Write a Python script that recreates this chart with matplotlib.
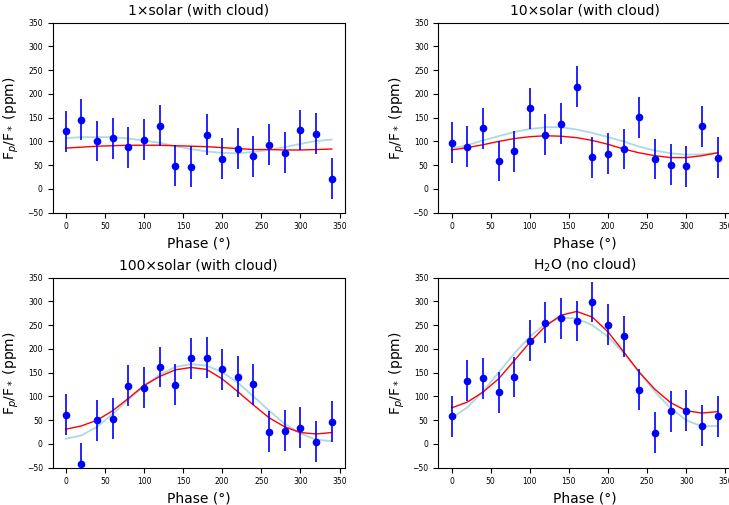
import numpy as np
import matplotlib
matplotlib.use("Agg")
import matplotlib.pyplot as plt

phase = np.arange(0, 360, 20)
err = 43

titles = ["1×solar (with cloud)", "10×solar (with cloud)",
          "100×solar (with cloud)", r"H$_2$O (no cloud)"]

# observed points (ppm)
obs_1x = [121, 146, 101, 107, 88, 104, 133, 49, 47, 114, 64, 85, 69, 93, 76, 124, 116, 22]
obs_10x = [97, 89, 128, 59, 79, 170, 114, 137, 215, 67, 74, 84, 151, 63, 51, 48, 132, 66]
obs_100x = [62, -42, 50, 53, 123, 118, 162, 125, 180, 182, 157, 142, 126, 26, 28, 34, 5, 47]
obs_h2o = [58, 133, 138, 109, 141, 217, 255, 265, 259, 299, 251, 227, 114, 24, 69, 70, 38, 58]

# model curves (red)
mod_1x = [86, 88, 90, 91, 92, 92, 92, 91, 90, 89, 87, 85, 83, 83, 82, 82, 83, 84]
mod_10x = [82, 87, 93, 100, 106, 110, 112, 111, 108, 102, 94, 84, 76, 70, 66, 66, 70, 76]
mod_100x = [31, 38, 50, 70, 96, 123, 142, 156, 161, 157, 137, 110, 82, 55, 36, 24, 21, 24]
mod_h2o = [76, 88, 109, 137, 175, 214, 248, 271, 279, 267, 236, 194, 151, 115, 87, 70, 65, 68]

# sinusoidal fits (light blue)
fit_1x = [107, 109, 109, 109, 106, 102, 97, 90, 84, 79, 76, 75, 78, 82, 88, 95, 101, 104]
fit_10x = [85, 92, 102, 111, 120, 126, 130, 130, 125, 118, 109, 100, 89, 81, 75, 72, 73, 76]
fit_100x = [11, 18, 36, 63, 93, 122, 146, 162, 168, 165, 151, 129, 100, 70, 42, 22, 9, 6]
fit_h2o = [54, 77, 110, 150, 190, 226, 253, 266, 264, 250, 226, 191, 151, 110, 75, 50, 37, 38]

obs = [obs_1x, obs_10x, obs_100x, obs_h2o]
mods = [mod_1x, mod_10x, mod_100x, mod_h2o]
fits = [fit_1x, fit_10x, fit_100x, fit_h2o]

W, H = 729, 505
fig = plt.figure(figsize=(W / 100, H / 100), dpi=100)

lefts = [52.5, 438.3]
tops = [22.7, 277.7]
aw, ah = 292.5, 190

for i in range(4):
    r, c = divmod(i, 2)
    ax = fig.add_axes([lefts[c] / W, (H - tops[r] - ah) / H, aw / W, ah / H])
    ax.plot(phase, fits[i], color="lightblue", lw=1.3, zorder=1)
    ax.plot(phase, mods[i], color="red", lw=1.0, zorder=2)
    ax.errorbar(phase, obs[i], yerr=err, fmt="o", color="blue", ms=4.5,
                elinewidth=1.2, capsize=0, zorder=3)
    ax.set_ylim(-50, 350)
    ax.set_xlim(-17, 357)
    ax.set_yticks(np.arange(-50, 351, 50))
    ax.set_xticks(np.arange(0, 351, 50))
    ax.tick_params(labelsize=5.5)
    ax.set_title(titles[i], fontsize=10)
    ax.set_xlabel("Phase (°)", fontsize=10)
    ax.set_ylabel(r"F$_p$/F$_*$ (ppm)", fontsize=10)

fig.savefig("out.png", dpi=100)
